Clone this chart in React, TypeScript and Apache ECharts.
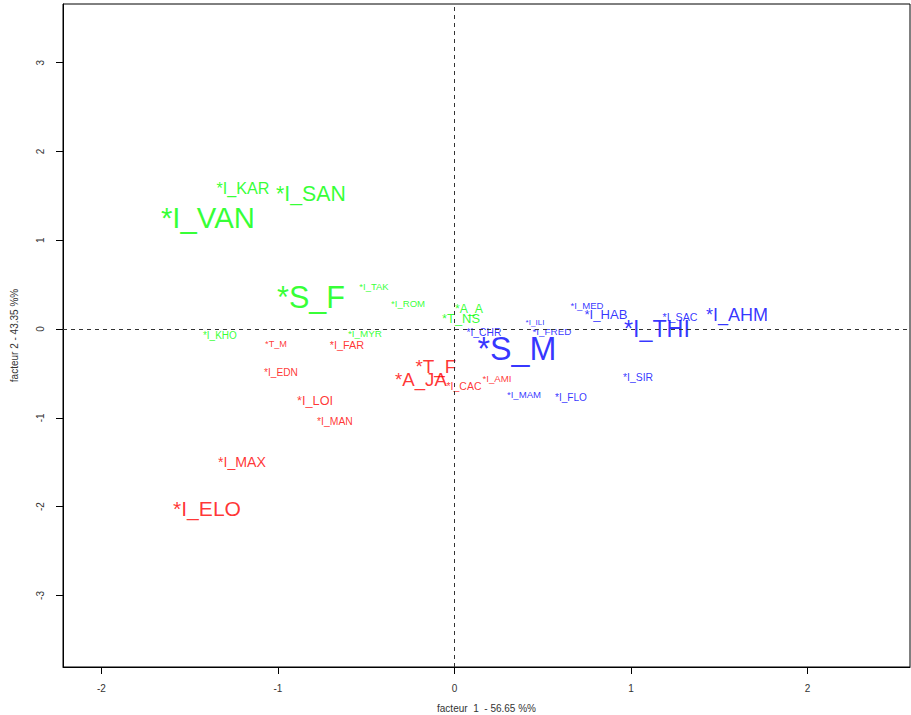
import React, { useEffect, useRef } from "react";
import * as echarts from "echarts";

// Factor 1 / factor 2 coordinates (CA plot)
const greenNames = ["*I_KAR", "*I_SAN", "*I_VAN", "*S_F", "*I_TAK", "*I_ROM", "*A_A", "*T_NS", "*I_KHO", "*I_MYR"];
const greenX = [-1.198, -0.813, -1.397, -0.813, -0.456, -0.263, 0.082, 0.037, -1.329, -0.507];
const greenY = [1.588, 1.52, 1.261, 0.36, 0.484, 0.282, 0.225, 0.124, -0.068, -0.045];
const greenCex = [16.2, 21.3, 29.3, 30.6, 9.5, 9.6, 12.3, 12.9, 10, 9.9];

const redNames = ["*T_M", "*I_FAR", "*T_F", "*A_JA", "*I_CAC", "*I_AMI", "*I_EDN", "*I_LOI", "*I_MAN", "*I_MAX", "*I_ELO"];
const redX = [-1.011, -0.609, -0.105, -0.19, 0.054, 0.241, -0.983, -0.79, -0.677, -1.204, -1.402];
const redY = [-0.169, -0.18, -0.417, -0.574, -0.642, -0.552, -0.495, -0.811, -1.036, -1.498, -2.016];
const redCex = [9.2, 10.9, 18.9, 18.7, 10.5, 9.7, 10.2, 12.7, 10.4, 14.2, 21.1];

const blueNames = ["*I_CHR", "*S_M", "*I_ILI", "*I_FRED", "*I_MED", "*I_HAB", "*I_THI", "*I_SAC", "*I_AHM", "*I_SIR", "*I_MAM", "*I_FLO"];
const blueX = [0.167, 0.354, 0.456, 0.552, 0.751, 0.858, 1.147, 1.278, 1.601, 1.04, 0.394, 0.66];
const blueY = [-0.034, -0.225, 0.068, -0.023, 0.27, 0.158, 0.0, 0.135, 0.158, -0.541, -0.743, -0.766];
const blueCex = [10.3, 32.3, 8.1, 9.9, 9.6, 13.1, 23.3, 10.7, 18, 10.4, 9.6, 10.1];

const xTicks = [-2, -1, 0, 1, 2];
const yTicks = [-3, -2, -1, 0, 1, 2, 3];
const xTitle = "facteur  1  - 56.65 %%";
const yTitle = "facteur 2 - 43.35 %%";

const FONT = "Liberation Sans, Arial, sans-serif";

function makeSeries(names: string[], xs: number[], ys: number[], sizes: number[], color: string) {
  return {
    type: "scatter",
    symbolSize: 0,
    silent: true,
    data: names.map((n, i) => ({
      name: n,
      value: [xs[i], ys[i]],
      label: { fontSize: sizes[i] },
    })),
    label: {
      show: true,
      position: "inside",
      align: "center",
      verticalAlign: "middle",
      formatter: (p: any) => p.name,
      color,
      fontFamily: FONT,
    },
    labelLayout: { hideOverlap: false },
  };
}

export default function App() {
  const ref = useRef<HTMLDivElement>(null);
  useEffect(() => {
    if (!ref.current) return;
    const chart = echarts.init(ref.current, undefined, { renderer: "svg" });
    const axisText = { color: "#333", fontFamily: FONT, fontSize: 10 };
    chart.setOption({
      animation: false,
      backgroundColor: "#fff",
      grid: {
        left: 63,
        top: 4,
        width: 847,
        height: 663,
        outerBoundsMode: "none",
        containLabel: false,
        show: true,
        borderColor: "#000",
        borderWidth: 1,
        backgroundColor: "transparent",
      },
      xAxis: {
        type: "value",
        min: -2.218,
        max: 2.581,
        name: xTitle,
        nameLocation: "middle",
        nameGap: 36,
        nameTextStyle: axisText,
        axisLine: { show: true, onZero: false, lineStyle: { color: "#000" } },
        axisTick: { show: true, length: 7, customValues: xTicks, lineStyle: { color: "#000" } },
        axisLabel: { ...axisText, margin: 16, customValues: xTicks, formatter: (v: number) => String(v) },
        splitLine: { show: false },
      },
      yAxis: {
        type: "value",
        min: -3.806,
        max: 3.66,
        name: yTitle,
        nameLocation: "middle",
        nameGap: 44,
        nameRotate: 90,
        nameTextStyle: axisText,
        axisLine: { show: true, onZero: false, lineStyle: { color: "#000" } },
        axisTick: { show: true, length: 7, customValues: yTicks, lineStyle: { color: "#000" } },
        axisLabel: { ...axisText, margin: 18, rotate: 90, customValues: yTicks, formatter: (v: number) => String(v) },
        splitLine: { show: false },
      },
      series: [
        {
          type: "scatter",
          data: [],
          silent: true,
          markLine: {
            silent: true,
            symbol: "none",
            label: { show: false },
            lineStyle: { color: "#333", type: [4, 4], width: 1 },
            data: [{ xAxis: 0 }, { yAxis: 0 }],
          },
        },
        makeSeries(greenNames, greenX, greenY, greenCex, "#00ff00"),
        makeSeries(redNames, redX, redY, redCex, "#ff0000"),
        makeSeries(blueNames, blueX, blueY, blueCex, "#0000ff"),
      ],
    });
    return () => chart.dispose();
  }, []);
  return <div ref={ref} style={{ width: 911, height: 715, position: "absolute", left: 0, top: 0 }} />;
}
